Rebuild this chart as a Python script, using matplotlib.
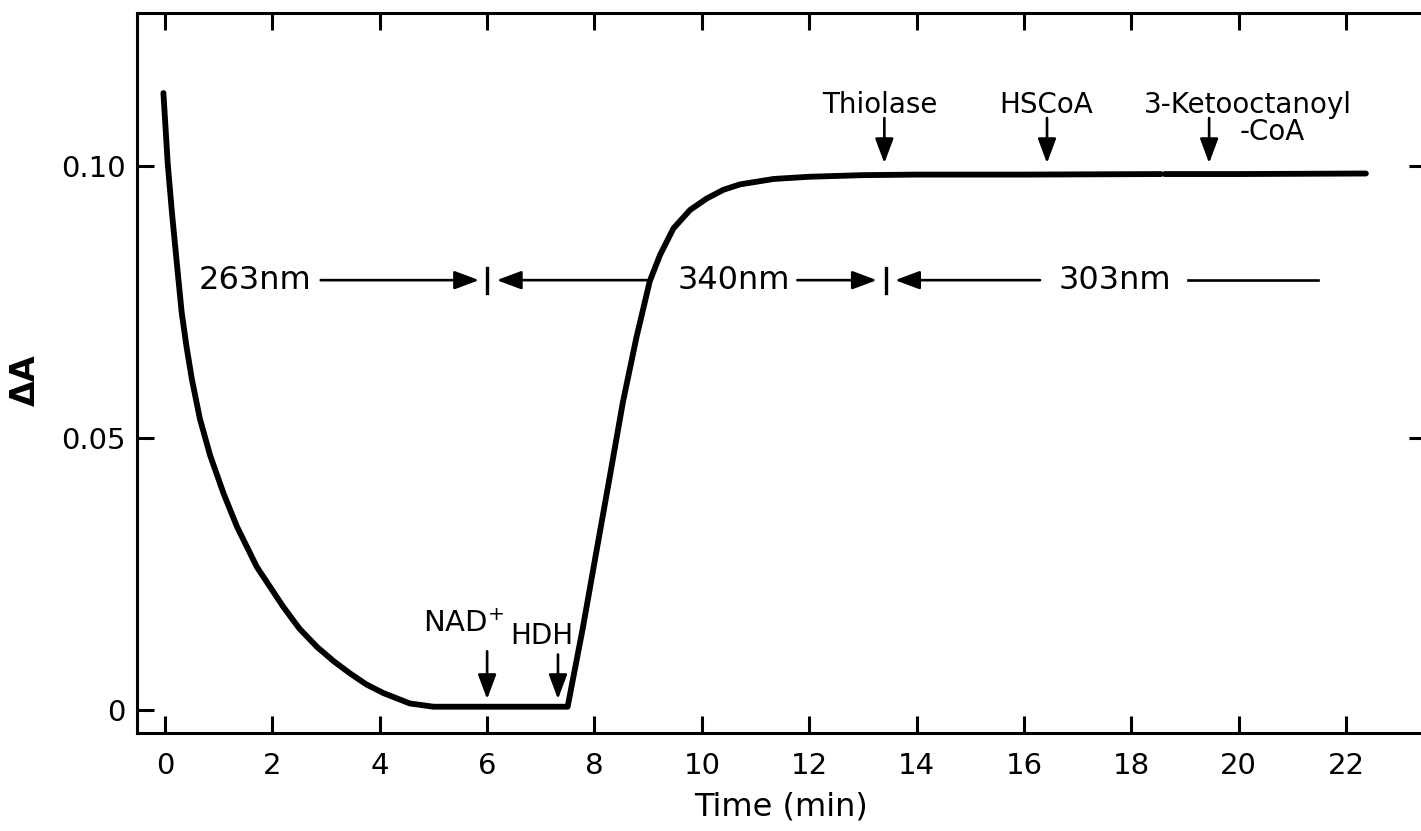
import numpy as np
import matplotlib
matplotlib.use("Agg")
import matplotlib.pyplot as plt

plt.rcParams['font.family'] = ['DejaVu Sans']

# ---- data ----
time_min = [-0.03, 0.05, 0.13, 0.22, 0.31, 0.40, 0.50, 0.65, 0.84, 1.09,
            1.34, 1.71, 2.20, 2.50, 2.83, 3.15, 3.45, 3.75, 4.07, 4.56,
            5.00, 5.31, 6.00, 7.00, 7.50, 7.78, 8.03, 8.28, 8.53, 8.78,
            9.03, 9.22, 9.47, 9.78, 10.09, 10.40, 10.71, 11.34, 12.00,
            13.00, 14.00, 16.00, 18.55, np.nan, 18.62, 20.00, 22.37]
delta_A = [0.1134, 0.1005, 0.0913, 0.0821, 0.0731, 0.0668, 0.0608, 0.0535,
           0.0468, 0.0398, 0.0337, 0.0263, 0.0190, 0.0150, 0.0116, 0.0089,
           0.0067, 0.0047, 0.0031, 0.0012, 0.0006, 0.0006, 0.0006, 0.0006,
           0.0006, 0.0149, 0.0288, 0.0426, 0.0566, 0.0684, 0.0788, 0.0836,
           0.0885, 0.0919, 0.0940, 0.0956, 0.0966, 0.0976, 0.0980, 0.0983,
           0.0984, 0.0984, 0.0985, np.nan, 0.0985, 0.0985, 0.0986]

x_ticks = [0, 2, 4, 6, 8, 10, 12, 14, 16, 18, 20, 22]
x_tick_labels = ["0", "2", "4", "6", "8", "10", "12", "14", "16", "18", "20", "22"]
y_ticks = [0.0, 0.05, 0.10]
y_tick_labels = ["0", "0.05", "0.10"]

# additions (time of addition, label)
low_additions_t = [6.0, 7.32]
low_additions_lbl = ["NAD$^{+}$", "HDH"]
high_additions_t = [13.4, 16.43, 19.45]
high_additions_lbl = ["Thiolase", "HSCoA", "3-Ketooctanoyl"]

# wavelength switches
switch_t = [6.0, 13.43]
wavelength_lbl = ["263nm", "340nm", "303nm"]

# ---- figure ----
W, H = 1421, 831
fig = plt.figure(figsize=(W / 100, H / 100), dpi=100)
left_px, right_px, top_px, bot_px = 137, 1426, 13, 733
ax = fig.add_axes([left_px / W, 1 - bot_px / H,
                   (right_px - left_px) / W, (bot_px - top_px) / H])

ax.plot(time_min, delta_A, color='black', lw=4.2, solid_capstyle='round',
        solid_joinstyle='round')

ax.set_xlim(-0.522, 23.49)
ax.set_ylim(-0.00423, 0.1281)

for s in ax.spines.values():
    s.set_linewidth(2.2)

ax.set_xticks(x_ticks)
ax.set_xticklabels(x_tick_labels)
ax.set_yticks(y_ticks)
ax.set_yticklabels(y_tick_labels)
ax.tick_params(axis='x', direction='in', length=12, width=2.2, top=True,
               labelsize=21, pad=14)
ax.tick_params(axis='y', direction='in', length=12, width=2.2,
               labelsize=21, pad=8)

ax2 = ax.twinx()
ax2.set_ylim(ax.get_ylim())
ax2.set_yticks([0.05, 0.10])
ax2.set_yticklabels([])
ax2.tick_params(axis='y', direction='in', length=12, width=2.2)
for s in ax2.spines.values():
    s.set_visible(False)

ax.set_xlabel("Time (min)", fontsize=23, labelpad=8)
ax.set_ylabel("ΔA", fontsize=24, fontweight='bold')
ax.yaxis.set_label_coords(-0.074, 0.49)

arrow_kw = dict(arrowstyle='-|>,head_length=0.75,head_width=0.28',
                color='black', lw=1.9, mutation_scale=20, shrinkA=0, shrinkB=0)

# low additions
ax.annotate("", xy=(low_additions_t[0], 0.0020), xytext=(low_additions_t[0], 0.0108),
            arrowprops=arrow_kw)
ax.annotate("", xy=(low_additions_t[1], 0.0020), xytext=(low_additions_t[1], 0.0102),
            arrowprops=arrow_kw)
ax.text(5.57, 0.0158, low_additions_lbl[0], fontsize=21, ha='center', va='center')
ax.text(7.02, 0.0136, low_additions_lbl[1], fontsize=20, ha='center', va='center')

# high additions
for t, lbl in zip(high_additions_t, high_additions_lbl):
    ax.annotate("", xy=(t, 0.1005), xytext=(t, 0.1088), arrowprops=arrow_kw)
ax.text(13.32, 0.1112, high_additions_lbl[0], fontsize=20, ha='center', va='center')
ax.text(16.41, 0.1112, high_additions_lbl[1], fontsize=20, ha='center', va='center')
ax.text(20.17, 0.1112, high_additions_lbl[2], fontsize=20, ha='center', va='center')
ax.text(20.62, 0.1062, "-CoA", fontsize=20, ha='center', va='center')

# wavelength measurement bar
yb = 0.0790
ax.text(1.67, yb, wavelength_lbl[0], fontsize=23, ha='center', va='center')
ax.text(10.60, yb, wavelength_lbl[1], fontsize=23, ha='center', va='center')
ax.text(17.70, yb, wavelength_lbl[2], fontsize=23, ha='center', va='center')
ax.annotate("", xy=(5.85, yb), xytext=(2.90, yb), arrowprops=arrow_kw)
ax.annotate("", xy=(6.18, yb), xytext=(9.00, yb), arrowprops=arrow_kw)
ax.annotate("", xy=(13.26, yb), xytext=(11.78, yb), arrowprops=arrow_kw)
ax.annotate("", xy=(13.60, yb), xytext=(16.30, yb), arrowprops=arrow_kw)
ax.plot([19.05, 21.48], [yb, yb], color='black', lw=1.9)
for t in switch_t:
    ax.plot([t, t], [yb - 0.0023, yb + 0.0023], color='black', lw=2.4)

fig.savefig("out.png", dpi=100)
